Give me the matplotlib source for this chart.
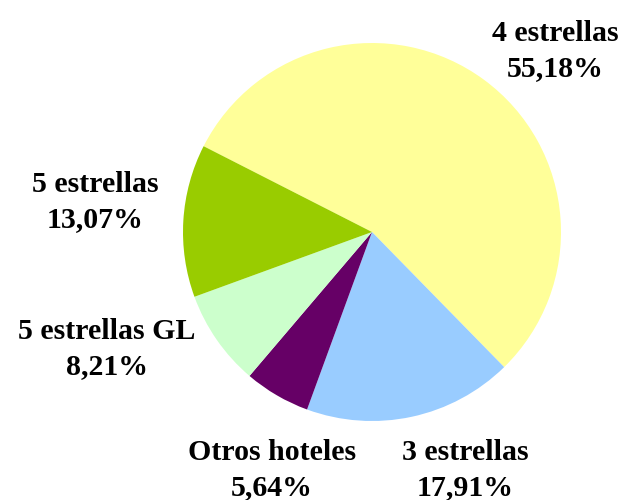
import matplotlib
matplotlib.use("Agg")
import matplotlib.pyplot as plt

categories = ["4 estrellas", "3 estrellas", "Otros hoteles", "5 estrellas GL", "5 estrellas"]
values = [55.18, 17.91, 5.64, 8.21, 13.07]
colors = ["#FFFF99", "#99CCFF", "#660066", "#CCFFCC", "#99CC00"]
pct_labels = ["55,18%", "17,91%", "5,64%", "8,21%", "13,07%"]

W, H = 626, 500
cx, cy, R = 372, 232, 189

fig = plt.figure(figsize=(W / 100, H / 100), dpi=100)
ax = fig.add_axes([0, 0, 1, 1])
ax.pie(values, colors=colors, startangle=153, counterclock=False,
       radius=1, wedgeprops=dict(linewidth=0))
ax.set_xlim(-cx / R, (W - cx) / R)
ax.set_ylim((cy - H) / R, cy / R)
ax.set_aspect("equal")
ax.axis("off")

# label block centers in pixel coords (from top-left)
label_pos = [(555, 51), (465, 470), (272, 470), (107, 349), (95, 202)]
for name, pct, (px, py) in zip(categories, pct_labels, label_pos):
    ax.text((px - cx) / R, (cy - py) / R, f"{name}\n{pct}", ha="center", va="center",
            fontsize=21.5, fontweight="bold", family="Liberation Serif",
            linespacing=1.4, color="black")

fig.savefig("out.png", dpi=100)
